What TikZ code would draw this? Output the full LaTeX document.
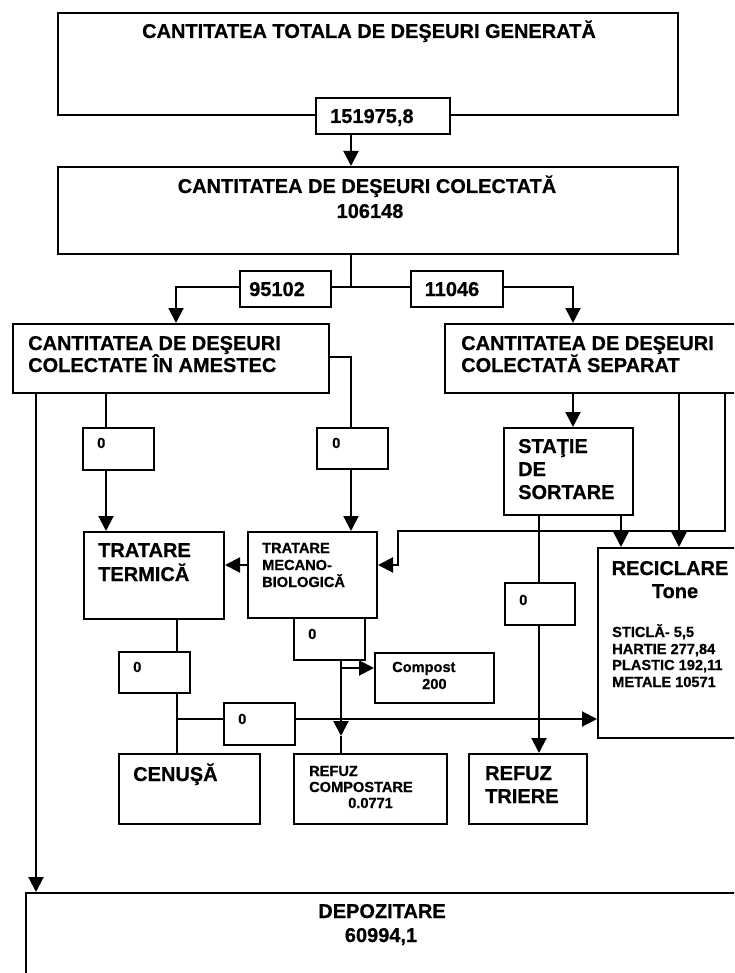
\documentclass[tikz,border=0pt]{standalone}
\usepackage{fontspec}
\setmainfont{Liberation Sans}[BoldFeatures={FakeBold=0.6}]
\usetikzlibrary{arrows.meta}
\begin{document}
\begin{tikzpicture}[x=1pt,y=-1pt,
  box/.style={draw, line width=2pt, anchor=north west, inner sep=0pt, fill=white},
  conn/.style={line width=2pt},
  arr/.style={conn, -{Triangle[length=15pt,width=15pt]}},
  big/.style={font=\fontsize{20}{24}\selectfont\bfseries, inner sep=0pt},
  small/.style={font=\fontsize{14.6}{17}\selectfont\bfseries, inner sep=0pt}]
\useasboundingbox (0,0) rectangle (734,973);
\clip (0,0) rectangle (734,973);
\fill[white] (0,0) rectangle (734,973);

% positions of connector lines
\coordinate (xA) at (351,0);
\coordinate (xL) at (176,0);
\coordinate (xR) at (573,0);
\coordinate (xD) at (36,0);
\coordinate (xT) at (106,0);
\coordinate (xS1) at (679,0);
\coordinate (xS2) at (725,0);
\coordinate (xSt1) at (621,0);
\coordinate (xSt2) at (539,0);
\coordinate (xC) at (177,0);
\coordinate (xM) at (341,0);
\coordinate (xK) at (398,0);
\coordinate (yM) at (0,357);
\coordinate (yK) at (0,531);
\coordinate (yArr) at (0,565);
\coordinate (yH) at (0,719);
\coordinate (yCo) at (0,668);
\coordinate (yTip) at (0,736);
\coordinate (jn) at (351,287);

% boxes
\node[box, minimum width=620, minimum height=102] (gen) at (57,12) {};
\node[box, minimum width=134, minimum height=36] (v1) at (315,97) {};
\node[box, minimum width=620, minimum height=87] (col) at (57,166) {};
\node[box, minimum width=316, minimum height=69] (mix) at (12,323) {};
\node[box, minimum width=320, minimum height=69] (sep) at (444,323) {};
\node[box, minimum width=71, minimum height=42] (z1) at (82,427) {};
\node[box, minimum width=71, minimum height=41] (z2) at (316,427) {};
\node[box, minimum width=129, minimum height=87] (st) at (503,427) {};
\node[box, minimum width=140, minimum height=87] (tt) at (83,531) {};
\node[box, minimum width=129, minimum height=86] (mb) at (247,531) {};
\node[box, minimum width=160, minimum height=190] (rec) at (597,547) {};
\node[box, minimum width=70, minimum height=42] (z3) at (504,582) {};
\node[box, minimum width=71, minimum height=42] (z4) at (293,617) {};
\node[box, minimum width=71, minimum height=41] (z5) at (118,651) {};
\node[box, minimum width=119, minimum height=50] (comp) at (374,652) {};
\node[box, minimum width=71, minimum height=42] (z6) at (223,702) {};
\node[box, minimum width=141, minimum height=70] (cen) at (118,753) {};
\node[box, minimum width=153, minimum height=70] (rc) at (293,753) {};
\node[box, minimum width=118, minimum height=70] (rt) at (468,753) {};
\node[box, minimum width=720, minimum height=120] (dep) at (25,892) {};

% connectors
\draw[arr] (v1.south -| xA) -- (col.north -| xA);
\draw[conn] (col.south -| xA) -- (jn);
\draw[arr] (jn) -| (mix.north -| xL);
\draw[arr] (jn) -| (sep.north -| xR);
\draw[arr] (mix.south -| xD) -- (dep.north -| xD);
\draw[conn] (mix.south -| xT) -- (z1.north -| xT);
\draw[arr] (z1.south -| xT) -- (tt.north -| xT);
\draw[conn] (mix.east |- yM) -| (z2.north -| xA);
\draw[arr] (z2.south -| xA) -- (mb.north -| xA);
\draw[arr] (sep.south -| xR) -- (st.north -| xR);
\draw[arr] (sep.south -| xS1) -- (rec.north -| xS1);
\draw[arr] (sep.south -| xS2) |- (xK |- yK) |- (mb.east |- yArr);
\draw[arr] (st.south -| xSt1) -- (rec.north -| xSt1);
\draw[conn] (st.south -| xSt2) -- (z3.north -| xSt2);
\draw[arr] (z3.south -| xSt2) -- (rt.north -| xSt2);
\draw[arr] (mb.west |- yArr) -- (tt.east |- yArr);
\draw[conn] (tt.south -| xC) -- (z5.north -| xC);
\draw[conn] (z5.south -| xC) -- (cen.north -| xC);
\draw[conn] (xC |- yH) -- (z6.west |- yH);
\draw[arr] (z6.east |- yH) -- (rec.west |- yH);
\draw[arr] (z4.south -| xM) -- (xM |- yTip);
\draw[conn] (xM |- yTip) -- (rc.north -| xM);
\draw[arr] (xM |- yCo) -- (comp.west |- yCo);

% value boxes on the split line
\node[box, minimum width=91, minimum height=36] (v95) at (239,270) {};
\node[box, minimum width=92, minimum height=36] (v11) at (410,270) {};

% texts
\node[big, anchor=base] (tGen) at (369,38) {CANTITATEA TOTALA DE DEŞEURI GENERATĂ};
\node[big, anchor=base west] (tV1) at (330,123) {151975,8};
\node[big, anchor=base] (tCol1) at (367,193) {CANTITATEA DE DEŞEURI COLECTATĂ};
\node[big, anchor=base] (tCol2) at (370,218) {106148};
\node[big, anchor=base] (tV95) at (277,296) {95102};
\node[big, anchor=base] (tV11) at (452,296) {11046};
\node[big, anchor=base west] (tMix1) at (28,350) {CANTITATEA DE DEŞEURI};
\node[big, anchor=base west] (tMix2) at (28,372) {COLECTATE ÎN AMESTEC};
\node[big, anchor=base west] (tSep1) at (461,350) {CANTITATEA DE DEŞEURI};
\node[big, anchor=base west] (tSep2) at (461,372) {COLECTATĂ SEPARAT};
\node[small, anchor=base west] (tZ1) at (97,448) {0};
\node[small, anchor=base west] (tZ2) at (332,448) {0};
\node[big, anchor=base west] (tSt1) at (518,453) {STAŢIE};
\node[big, anchor=base west] (tSt2) at (518,476) {DE};
\node[big, anchor=base west] (tSt3) at (518,499) {SORTARE};
\node[big, anchor=base west] (tTt1) at (98,557) {TRATARE};
\node[big, anchor=base west] (tTt2) at (98,581) {TERMICĂ};
\node[small, anchor=base west] (tMb1) at (262,553) {TRATARE};
\node[small, anchor=base west] (tMb2) at (262,570) {MECANO-};
\node[small, anchor=base west] (tMb3) at (262,587) {BIOLOGICĂ};
\node[big, anchor=base] (tRec1) at (670,575) {RECICLARE};
\node[big, anchor=base] (tRec2) at (675,598) {Tone};
\node[small, anchor=base west] (tRec3) at (612,637) {STICLĂ- 5,5};
\node[small, anchor=base west] (tRec4) at (612,654) {HARTIE 277,84};
\node[small, anchor=base west] (tRec5) at (612,670) {PLASTIC 192,11};
\node[small, anchor=base west] (tRec6) at (612,687) {METALE 10571};
\node[small, anchor=base west] (tZ3) at (519,605) {0};
\node[small, anchor=base west] (tZ4) at (308,639) {0};
\node[small, anchor=base west] (tZ5) at (133,672) {0};
\node[small, anchor=base west] (tZ6) at (238,724) {0};
\node[small, anchor=base west] (tComp1) at (392,672) {Compost};
\node[small, anchor=base west] (tComp2) at (422,689) {200};
\node[big, anchor=base west] (tCen) at (133,781) {CENUŞĂ};
\node[small, anchor=base west] (tRc1) at (309,776) {REFUZ};
\node[small, anchor=base west] (tRc2) at (309,792) {COMPOSTARE};
\node[small, anchor=base west] (tRc3) at (348,808) {0.0771};
\node[big, anchor=base west] (tRt1) at (485,780) {REFUZ};
\node[big, anchor=base west] (tRt2) at (485,803) {TRIERE};
\node[big, anchor=base] (tDep1) at (382,918) {DEPOZITARE};
\node[big, anchor=base] (tDep2) at (381,942) {60994,1};
\end{tikzpicture}
\end{document}
